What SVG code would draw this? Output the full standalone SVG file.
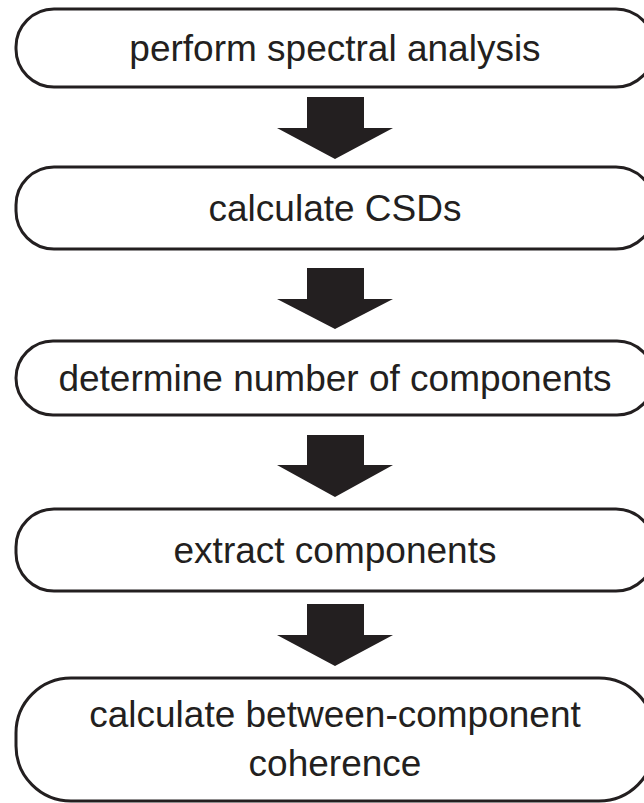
<svg xmlns="http://www.w3.org/2000/svg" width="644" height="803" viewBox="0 0 644 803">
<style>
.box{fill:#fff;stroke:#231f20;stroke-width:3}
.lbl{font-family:"Liberation Sans",Arial,sans-serif;font-size:37px;fill:#231f20;text-anchor:middle}
.arr{fill:#231f20}
</style>
<rect width="644" height="803" fill="#fff"/>
<g id="connectors">
<path class="arr" d="M307,97 H364 V128 H393 L335,159 L277,128 H307 Z"/>
<path class="arr" d="M307,268 H364 V299 H393 L335,329 L277,299 H307 Z"/>
<path class="arr" d="M307,435 H364 V465 H393 L335,497 L277,465 H307 Z"/>
<path class="arr" d="M307,604 H364 V635 H393 L335,666 L277,635 H307 Z"/>
</g>
<g id="n1">
<rect class="box" x="16" y="9" width="638" height="78" rx="38" ry="38"/>
<text class="lbl" x="335" y="61">perform spectral analysis</text>
</g>
<g id="n2">
<rect class="box" x="16" y="167" width="638" height="82" rx="38" ry="38"/>
<text class="lbl" x="335" y="221">calculate CSDs</text>
</g>
<g id="n3">
<rect class="box" x="16" y="341" width="638" height="74" rx="37" ry="37"/>
<text class="lbl" x="335" y="391">determine number of components</text>
</g>
<g id="n4">
<rect class="box" x="16" y="509" width="638" height="82" rx="38" ry="38"/>
<text class="lbl" x="335" y="563">extract components</text>
</g>
<g id="n5">
<rect class="box" x="16" y="678" width="638" height="123" rx="55" ry="55"/>
<text class="lbl" x="335" y="727">calculate between-component</text>
<text class="lbl" x="335" y="776">coherence</text>
</g>
</svg>
